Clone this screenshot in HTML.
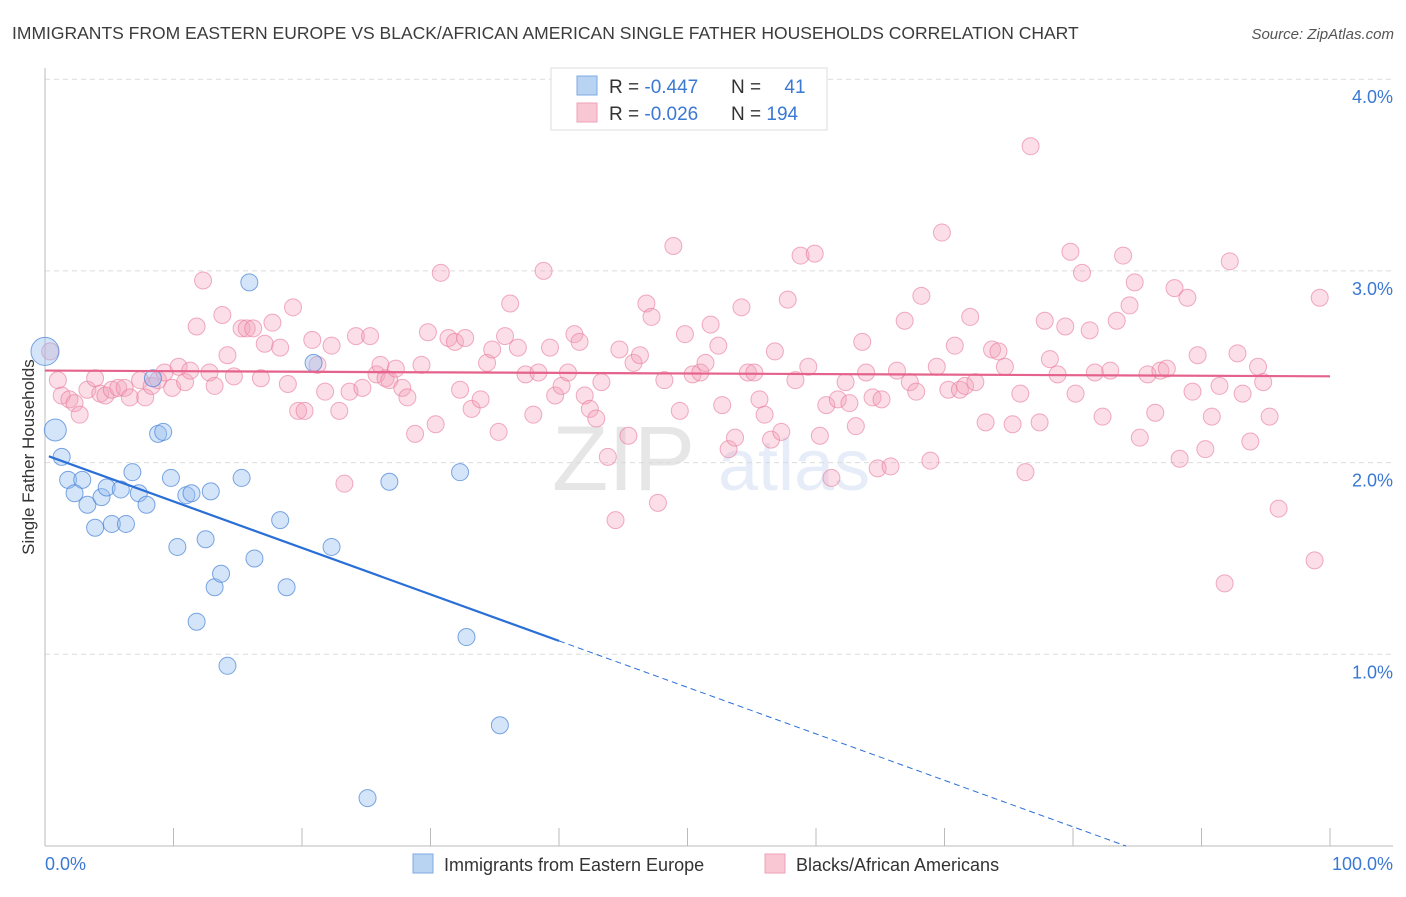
<!DOCTYPE html>
<html><head><meta charset="utf-8"><style>
body{margin:0;background:#fff;font-family:"Liberation Sans",sans-serif}
svg text{font-family:"Liberation Sans",sans-serif}
</style></head><body>
<svg id="chart" width="1406" height="892" viewBox="0 0 1406 892" xmlns="http://www.w3.org/2000/svg">
<text x="12" y="39" font-size="17.5" fill="#3c3c3c">IMMIGRANTS FROM EASTERN EUROPE VS BLACK/AFRICAN AMERICAN SINGLE FATHER HOUSEHOLDS CORRELATION CHART</text>
<text x="1394" y="39" font-size="15" fill="#555" font-style="italic" text-anchor="end">Source: ZipAtlas.com</text>
<g opacity="0.13">
<text x="552" y="490" font-size="92" font-family="Liberation Serif" fill="#444" font-family="serif">ZIP</text>
<text x="718" y="490" font-size="72" fill="#4a7bd0">atlas</text>
</g>
<g id="grid"></g>
<g id="axes"></g>
<text transform="translate(34,457) rotate(-90)" font-size="17" fill="#333" text-anchor="middle">Single Father Households</text>
<g id="pts"></g>
<g id="trend"></g>
<g>
<rect x="551" y="68" width="276" height="62" fill="#fff" stroke="#ddd"/>
<rect x="577" y="76" width="20" height="19" fill="#b9d3f3" stroke="#7fa9e0"/>
<rect x="577" y="103" width="20" height="19" fill="#f9c6d4" stroke="#eea3b9"/>
<text x="609" y="93" font-size="19" fill="#333">R = <tspan fill="#3a78d4">-0.447</tspan></text>
<text x="731" y="93" font-size="19" fill="#333">N = <tspan fill="#3a78d4" dx="18">41</tspan></text>
<text x="609" y="120" font-size="19" fill="#333">R = <tspan fill="#3a78d4">-0.026</tspan></text>
<text x="731" y="120" font-size="19" fill="#333">N = <tspan fill="#3a78d4">194</tspan></text>
</g>
<g>
<rect x="413" y="854" width="20" height="19" fill="#b9d3f3" stroke="#7fa9e0"/>
<text x="444" y="871" font-size="18" fill="#333">Immigrants from Eastern Europe</text>
<rect x="765" y="854" width="20" height="19" fill="#f9c6d4" stroke="#eea3b9"/>
<text x="796" y="871" font-size="18" fill="#333">Blacks/African Americans</text>
</g>
</svg>
<script>
const blueX=[0,0.8,1.3,1.8,2.9,2.3,3.3,4.4,3.9,4.8,5.2,5.9,6.3,6.8,7.3,7.9,8.4,8.8,9.2,9.8,10.3,11.0,11.4,11.8,12.5,12.9,13.2,13.7,14.2,15.3,15.9,16.3,18.3,18.8,20.9,22.3,25.1,26.8,32.3,32.8,35.4];
const blueY=[2.58,2.17,2.03,1.91,1.91,1.84,1.78,1.82,1.66,1.87,1.68,1.86,1.68,1.95,1.84,1.78,2.44,2.15,2.16,1.92,1.56,1.83,1.84,1.17,1.60,1.85,1.35,1.42,0.94,1.92,2.94,1.50,1.70,1.35,2.52,1.56,0.25,1.90,1.95,1.09,0.63];
const pinkX=[0.4,1.0,1.3,1.9,2.3,2.7,3.3,3.9,4.3,4.7,5.2,5.7,6.2,6.6,7.4,7.8,8.3,8.8,9.3,9.9,10.4,10.9,11.3,11.8,12.3,12.8,13.2,13.8,14.2,14.7,15.3,15.7,16.2,16.8,17.1,17.7,18.3,18.9,19.3,19.7,20.2,20.8,21.2,21.8,22.3,22.9,23.3,23.7,24.2,24.7,25.3,25.8,26.1,26.5,26.8,27.3,27.8,28.2,28.8,29.3,29.8,30.4,30.8,31.4,31.9,32.3,32.7,33.2,33.9,34.4,34.8,35.3,35.8,36.2,36.8,37.4,38.0,38.4,38.8,39.3,39.7,40.2,40.7,41.2,41.6,42.0,42.4,42.9,43.3,43.8,44.4,44.7,45.4,45.8,46.3,46.8,47.2,47.7,48.2,48.9,49.4,49.8,50.4,51.0,51.4,51.8,52.4,52.7,53.2,53.7,54.2,54.7,55.2,55.6,56.0,56.5,56.8,57.3,57.8,58.4,58.8,59.4,59.9,60.3,60.8,61.2,61.7,62.3,62.6,63.1,63.6,63.9,64.4,64.8,65.1,65.8,66.3,66.9,67.3,67.8,68.2,68.9,69.4,69.8,70.3,70.8,71.2,71.6,72.0,72.4,73.2,73.7,74.2,74.7,75.3,75.9,76.3,76.7,77.4,77.8,78.2,78.8,79.4,79.8,80.2,80.7,81.3,81.7,82.3,82.9,83.4,83.9,84.4,84.8,85.2,85.8,86.4,86.8,87.3,87.9,88.3,88.9,89.3,89.7,90.3,90.8,91.4,91.8,92.2,92.8,93.2,93.8,94.4,94.8,95.3,96.0,98.8,99.2];
const pinkY=[2.58,2.43,2.35,2.33,2.31,2.25,2.38,2.44,2.36,2.35,2.38,2.39,2.39,2.34,2.43,2.34,2.40,2.43,2.47,2.39,2.50,2.42,2.48,2.71,2.95,2.47,2.40,2.77,2.56,2.45,2.70,2.70,2.70,2.44,2.62,2.73,2.60,2.41,2.81,2.27,2.27,2.64,2.51,2.37,2.61,2.27,1.89,2.37,2.66,2.39,2.66,2.46,2.51,2.44,2.43,2.49,2.39,2.34,2.15,2.51,2.68,2.20,2.99,2.65,2.63,2.38,2.65,2.28,2.33,2.52,2.59,2.16,2.66,2.83,2.60,2.46,2.25,2.47,3.00,2.60,2.35,2.40,2.47,2.67,2.63,2.35,2.28,2.23,2.42,2.03,1.70,2.59,2.14,2.52,2.56,2.83,2.76,1.79,2.43,3.13,2.27,2.67,2.46,2.47,2.52,2.72,2.61,2.30,2.07,2.13,2.81,2.47,2.47,2.33,2.25,2.12,2.58,2.16,2.85,2.43,3.08,2.50,3.09,2.14,2.30,1.92,2.33,2.42,2.31,2.19,2.63,2.47,2.34,1.97,2.33,1.98,2.48,2.74,2.42,2.37,2.87,2.01,2.50,3.20,2.38,2.61,2.38,2.40,2.76,2.42,2.21,2.59,2.58,2.50,2.20,2.36,1.95,3.65,2.21,2.74,2.54,2.46,2.71,3.10,2.36,2.99,2.69,2.47,2.24,2.48,2.74,3.08,2.82,2.94,2.13,2.46,2.26,2.48,2.49,2.91,2.02,2.86,2.37,2.56,2.07,2.24,2.40,1.37,3.05,2.57,2.36,2.11,2.50,2.42,2.24,1.76,1.49,2.86];
const blueTrend=[2.04,-0.385];
const pinkTrend=[2.48,2.45];
const yTicks=[1,2,3,4];
const yTickLabels=["1.0%","2.0%","3.0%","4.0%"];
const xTicks=[0,10,20,30,40,50,60,70,80,90,100];

const NS="http://www.w3.org/2000/svg";
const X=v=>45+v*12.85;
const Y=v=>846-v*191.7;
function mk(tag,attrs,parent){const e=document.createElementNS(NS,tag);for(const k in attrs)e.setAttribute(k,attrs[k]);parent.appendChild(e);return e;}
const grid=document.getElementById('grid'),axes=document.getElementById('axes'),pts=document.getElementById('pts'),trend=document.getElementById('trend');
yTicks.forEach((t,i)=>{
  const l=mk('line',{x1:45,x2:1393,y1:Y(t),y2:Y(t),stroke:'#dcdcdc','stroke-dasharray':'5,4'},grid);
  
  
  const tx=mk('text',{x:1393,y:Y(t)+24,'font-size':18,fill:'#3a78d4','text-anchor':'end'},grid);
  tx.textContent=yTickLabels[i];
  
  
});
const ax=mk('line',{x1:45,x2:45,y1:68,y2:846,stroke:'#bbb'},axes);


const bx=mk('line',{x1:45,x2:1393,y1:846,y2:846,stroke:'#bbb'},axes);


xTicks.forEach(t=>{
  const l=mk('line',{x1:X(t),x2:X(t),y1:828,y2:846,stroke:'#bbb'},axes);
  
  
});
const x0=mk('text',{x:45,y:870,'font-size':18,fill:'#3a78d4'},axes);x0.textContent=xTicks[0].toFixed(1)+"%";


const x1=mk('text',{x:1393,y:870,'font-size':18,fill:'#3a78d4','text-anchor':'end'},axes);x1.textContent=xTicks[xTicks.length-1].toFixed(1)+"%";



pinkX.forEach((x,i)=>{
  const c=mk('circle',{cx:X(x),cy:Y(pinkY[i]),r:8.5,fill:'rgba(244,160,185,0.35)',stroke:'rgba(232,120,155,0.6)','stroke-width':1},pts);
  
  
});
blueX.forEach((x,i)=>{
  const r=i===0?14:(i===1?11:8.5);
  const c=mk('circle',{cx:X(x),cy:Y(blueY[i]),r:r,fill:'rgba(150,190,240,0.4)',stroke:'rgba(70,130,215,0.7)','stroke-width':1},pts);
  
  
});
const bY=x=>blueTrend[0]+(blueTrend[1]-blueTrend[0])*x/100;
const xZero=blueTrend[0]/(blueTrend[0]-blueTrend[1])*100;
const bs=mk('line',{x1:X(0.3),y1:Y(bY(0.3)),x2:X(40),y2:Y(bY(40)),stroke:'#2a6fd6','stroke-width':2.2},trend);


const bd=mk('line',{x1:X(40),y1:Y(bY(40)),x2:X(Math.min(xZero,100)),y2:Y(bY(Math.min(xZero,100))),stroke:'#2a6fd6','stroke-width':1,'stroke-dasharray':'6,4'},trend);


const pl=mk('line',{x1:X(0),y1:Y(pinkTrend[0]),x2:X(100),y2:Y(pinkTrend[1]),stroke:'#e5628c','stroke-width':2.2},trend);


</script>
</body></html>
